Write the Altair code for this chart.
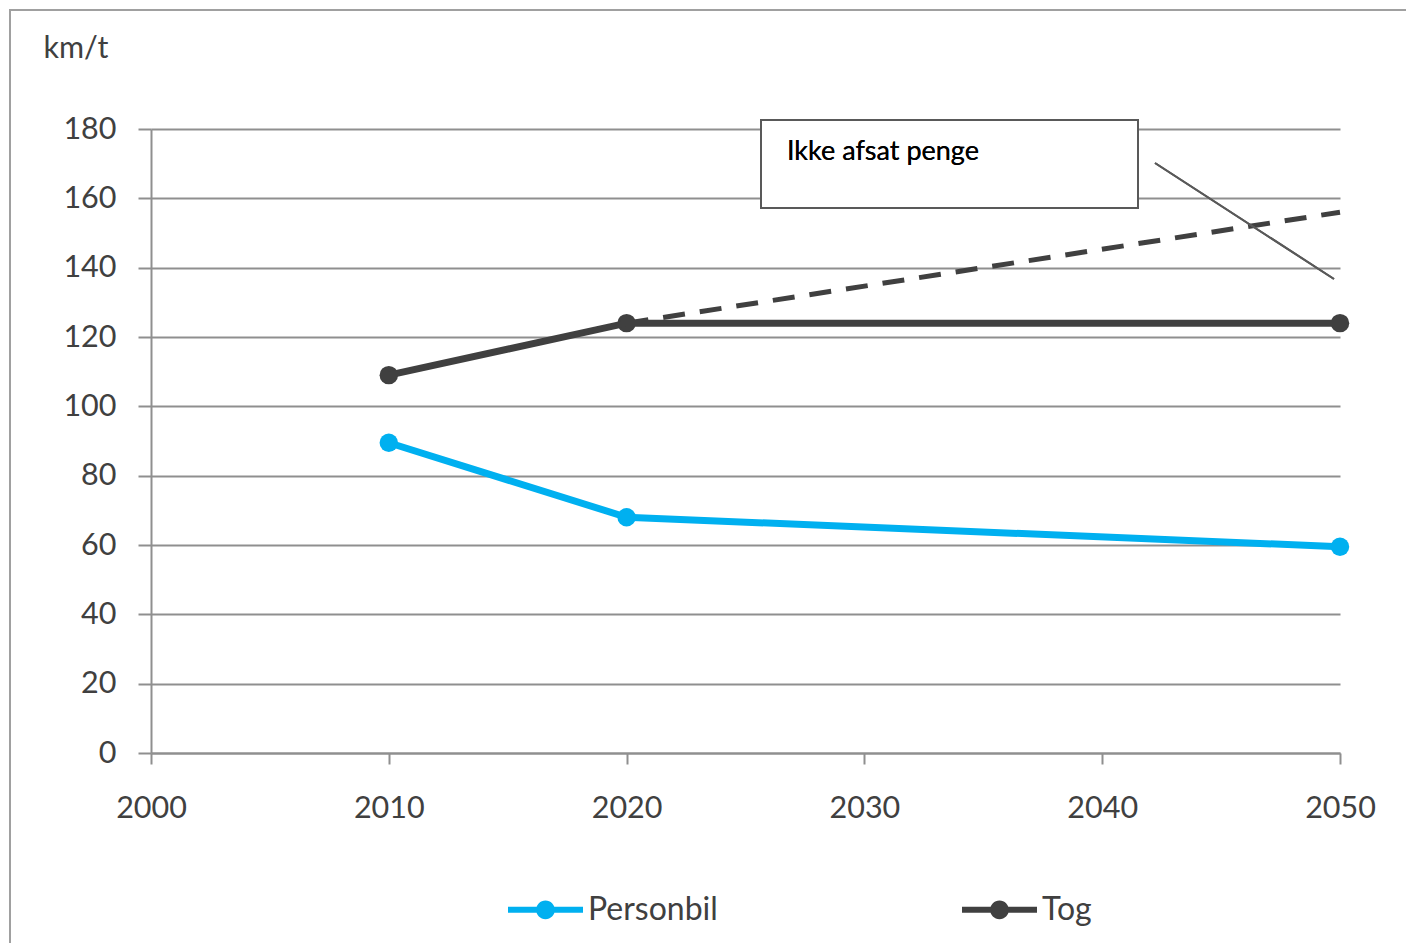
import altair as alt
import pandas as pd

years = [2010, 2020, 2050]
personbil = [89.5, 68.0, 59.5]
tog = [109.0, 124.0, 124.0]
dashed_years = [2020, 2050]
dashed_vals = [124.0, 156.0]
series_names = ["Personbil", "Tog"]
series_colors = ["#00b0f0", "#404040"]
y_ticks = [0, 20, 40, 60, 80, 100, 120, 140, 160, 180]
x_ticks = [2000, 2010, 2020, 2030, 2040, 2050]
annotation_text = "Ikke afsat penge"
y_title = "km/t"

rows = []
for name, vals in zip(series_names, [personbil, tog]):
    for yr, v in zip(years, vals):
        rows.append({"year": yr, "value": v, "series": name})
df = pd.DataFrame(rows)
df_dash = pd.DataFrame({"year": dashed_years, "value": dashed_vals})

W, H = 1189, 624
FONT = "Lato"

xscale = alt.Scale(domain=[2000, 2050], nice=False, zero=False)
yscale = alt.Scale(domain=[0, 180], nice=False)

legend_path = ("M-1,-0.08H1V0.08H-1Z "
               "M-0.25,0A0.25,0.25 0 1,1 0.25,0A0.25,0.25 0 1,1 -0.25,0Z")

color = alt.Color(
    "series:N",
    scale=alt.Scale(domain=series_names, range=series_colors),
    legend=alt.Legend(
        title=None, orient="none", direction="horizontal",
        legendX=357, legendY=743,
        symbolType=legend_path, symbolSize=5625,
        symbolStrokeWidth=0, symbolOpacity=1,
        labelFont=FONT, labelFontSize=32, labelColor="#404040",
        labelOffset=5,
    ),
)

x_enc = alt.X("year:Q", scale=xscale, axis=alt.Axis(
    values=x_ticks, format="d", title=None, grid=False,
    tickSize=11, tickColor="#8f8f8f", tickWidth=2,
    domainColor="#8f8f8f", domainWidth=2,
    labelFont=FONT, labelFontSize=30.5, labelColor="#404040",
    labelPadding=29, labelFlush=False))
y_enc = alt.Y("value:Q", scale=yscale, axis=alt.Axis(
    values=y_ticks, title=y_title, titleAngle=0, titleX=-108, titleY=-81,
    titleAlign="left", titleBaseline="middle", titleFont=FONT,
    titleFontSize=30.5, titleFontWeight="normal", titleColor="#404040",
    grid=True, gridColor="#8f8f8f", gridWidth=2,
    tickSize=13, tickColor="#8f8f8f", tickWidth=2,
    domainColor="#8f8f8f", domainWidth=2,
    labelFont=FONT, labelFontSize=30.5, labelColor="#404040",
    labelPadding=22))

base = alt.Chart(df)

points = base.mark_point(filled=True, size=340, opacity=1).encode(
    x=x_enc, y=y_enc, color=color)
lines = base.mark_line(strokeWidth=7).encode(
    x="year:Q", y="value:Q", color=alt.Color("series:N"))
dash = alt.Chart(df_dash).mark_line(
    strokeWidth=5, strokeDash=[22, 15], color="#404040").encode(
    x="year:Q", y="value:Q")

border = alt.Chart(df_dash).mark_rect(
    fill=None, stroke="#a0a0a0", strokeWidth=2).encode(
    x=alt.value(-141), x2=alt.value(1416 - 151 + 20),
    y=alt.value(-119), y2=alt.value(951 - 129 + 20))

box = alt.Chart(df_dash).mark_rect(
    fill="white", stroke="#595959", strokeWidth=2).encode(
    x=alt.value(610), x2=alt.value(987),
    y=alt.value(-9), y2=alt.value(79))
box_text = alt.Chart(df_dash).mark_text(
    text=annotation_text, font=FONT, fontSize=27, color="black",
    align="left", baseline="alphabetic").encode(
    x=alt.value(636), y=alt.value(31))
callout = alt.Chart(df_dash).mark_rule(
    color="#595959", strokeWidth=2).encode(
    x=alt.value(1004), x2=alt.value(1183),
    y=alt.value(34), y2=alt.value(150))

chart = alt.layer(
    points, border, dash, lines, box, box_text, callout
).properties(
    width=W, height=H,
    padding={"left": 143, "top": 121, "right": 66, "bottom": 190},
    autosize=alt.AutoSizeParams(type="none"),
).configure_view(stroke=None).configure_legend(columnPadding=244)

chart.save("out.html", embed_options={"renderer": "svg", "actions": False})
